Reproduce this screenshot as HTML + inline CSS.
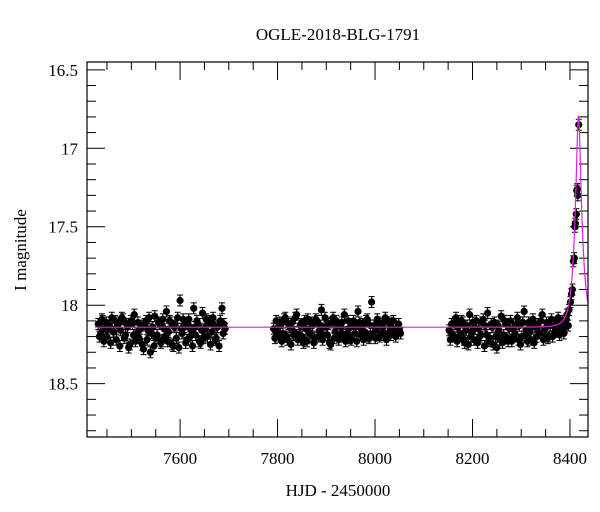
<!DOCTYPE html>
<html><head><meta charset="utf-8"><style>
html,body{margin:0;padding:0;background:#fff;}
svg{display:block;font-family:"Liberation Serif",serif;}
</style></head><body>
<svg id="chart" width="600" height="512">
<text x="338" y="40" text-anchor="middle" font-size="17">OGLE-2018-BLG-1791</text>
<text x="338" y="496" text-anchor="middle" font-size="17">HJD - 2450000</text>
<text x="0" y="0" transform="translate(26,250) rotate(-90)" text-anchor="middle" font-size="17">I magnitude</text>
<g id="ticks"></g>
<g id="data"></g>
<path id="model" fill="none" stroke="#e020e0" stroke-width="1.2"/>
<rect x="87" y="62" width="501" height="375" fill="none" stroke="#000" stroke-width="1.2"/>
</svg>
<script>
const xTickLabels=[7600,7800,8000,8200,8400];
const yTickLabels=[16.5,17,17.5,18,18.5];
const t1=[7432,7437,7441,7446,7450,7455,7460,7464,7469,7474,7478,7483,7488,7492,7497,7502,7506,7511,7516,7520,7525,7530,7534,7539,7544,7548,7553,7558,7562,7567,7572,7576,7581,7586,7590,7595,7600,7604,7609,7614,7618,7623,7628,7632,7637,7642,7646,7651,7656,7660,7665,7670,7674,7680,7686,7690];
const m1=[18.12,18.18,18.10,18.15,18.20,18.13,18.08,18.17,18.22,18.11,18.16,18.09,18.19,18.14,18.25,18.12,18.06,18.18,18.21,18.13,18.28,18.10,18.16,18.30,18.14,18.07,18.19,18.12,18.23,18.15,18.04,18.17,18.11,18.26,18.13,18.08,17.97,18.18,18.14,18.22,18.09,18.16,18.02,18.19,18.12,18.24,18.05,18.15,18.20,18.10,18.17,18.13,18.21,18.26,18.02,18.12];
const m1b=[18.20,18.09,18.23,18.11,18.14,18.24,18.17,18.10,18.13,18.26,18.08,18.21,18.12,18.27,18.10,18.19,18.23,18.11,18.15,18.25,18.12,18.22,18.08,18.18,18.26,18.21,18.11,18.24,18.09,18.20,18.23,18.10,18.25,18.14,18.21,18.27,18.15,18.09,18.24,18.12,18.20,18.26,18.14,18.10,18.23,18.16,18.21,18.09,18.12,18.25,18.08,18.22,18.14,18.10,18.18,18.15];
const t2=[7792,7797,7802,7806,7811,7816,7820,7825,7830,7834,7839,7844,7848,7853,7858,7862,7867,7872,7876,7881,7886,7890,7895,7900,7904,7909,7914,7918,7923,7928,7932,7937,7942,7946,7951,7956,7960,7965,7970,7974,7979,7984,7988,7993,7998,8002,8007,8012,8016,8021,8026,8030,8035,8040,8046,8050];
const m2=[18.15,18.10,18.20,18.13,18.18,18.08,18.22,18.14,18.11,18.17,18.06,18.19,18.12,18.24,18.15,18.09,18.18,18.13,18.21,18.10,18.16,18.03,18.19,18.14,18.12,18.25,18.08,18.17,18.13,18.20,18.11,18.06,18.18,18.15,18.22,18.10,18.14,18.04,18.19,18.12,18.17,18.09,18.21,17.98,18.13,18.16,18.11,18.19,18.14,18.08,18.18,18.12,18.15,18.17,18.14,18.16];
const m2b=[18.21,18.17,18.11,18.23,18.09,18.20,18.12,18.25,18.19,18.08,18.22,18.13,18.20,18.10,18.23,18.17,18.11,18.24,18.09,18.20,18.13,18.22,18.08,18.19,18.24,18.11,18.21,18.10,18.22,18.14,18.19,18.23,18.10,18.21,18.12,18.18,18.23,18.11,18.16,18.22,18.10,18.20,18.13,18.18,18.21,18.09,18.20,18.12,18.18,18.22,18.11,18.19,18.10,18.20,18.12,18.18];
const t3=[8152,8157,8161,8166,8170,8175,8180,8184,8189,8194,8198,8203,8208,8212,8217,8222,8226,8231,8236,8240,8245,8250,8254,8259,8264,8268,8273,8278,8282,8287,8292,8296,8301,8306,8310,8315,8320,8324,8329,8334,8338,8343,8348,8352,8357,8362,8366,8371,8376,8380,8385,8390,8394,8398,8401,8403,8405,8407,8409,8410,8411,8413,8414,8415,8416,8418];
const m3=[18.16,18.12,18.20,18.08,18.14,18.18,18.11,18.24,18.13,18.06,18.17,18.22,18.10,18.15,18.19,18.09,18.13,18.05,18.21,18.14,18.11,18.27,18.16,18.07,18.19,18.12,18.23,18.10,18.15,18.18,18.08,18.13,18.20,18.04,18.16,18.11,18.22,18.09,18.14,18.12,18.18,18.06,18.15,18.11,18.20,18.09,18.13,18.16,18.08,18.12,18.10,18.14,18.06,18.03,17.98,17.93,17.90,17.72,17.70,17.50,17.48,17.42,17.27,17.26,17.30,16.85];
const m3b=[18.22,18.19,18.11,18.23,18.20,18.10,18.22,18.16,18.25,18.20,18.11,18.15,18.24,18.20,18.11,18.26,18.19,18.23,18.12,18.25,18.20,18.13,18.22,18.24,18.10,18.21,18.15,18.23,18.20,18.12,18.22,18.25,18.11,18.19,18.23,18.17,18.12,18.24,18.20,18.18,18.10,18.22,18.19,18.21,18.13,18.20,18.17,18.11,18.19,18.15,18.18,18.09,18.13];
const modelParams=[8417.5,0.3,14,18.14];
const NS="http://www.w3.org/2000/svg";
const X0=87,X1=588,Y0=62,Y1=437,xmin=7409,xmax=8437,ymin=16.45,ymax=18.84;
const sx=t=>X0+(t-xmin)/(xmax-xmin)*(X1-X0);
const sy=m=>Y0+(m-ymin)/(ymax-ymin)*(Y1-Y0);
function mk(tag,attrs,parent){const e=document.createElementNS(NS,tag);for(const k in attrs)e.setAttribute(k,attrs[k]);parent.appendChild(e);return e;}
const tg=document.getElementById('ticks');
for(let t=7450;t<=8437;t+=50){
 const x=sx(t),big=t%200===0,len=big?18:8;
 const a=mk('line',{x1:x,x2:x,y1:Y1,y2:Y1-len,stroke:'#000','stroke-width':1},tg);
 
 
 const b=mk('line',{x1:x,x2:x,y1:Y0,y2:Y0+len,stroke:'#000','stroke-width':1},tg);
 
 
}
xTickLabels.forEach(v=>{const e=mk('text',{x:sx(v),y:464,'text-anchor':'middle','font-size':17},tg);e.textContent=v;
 
 });
for(let i=0;i<=23;i++){
 const m=16.5+i*0.1,y=sy(m),big=i%5===0,len=big?18:9;
 const a=mk('line',{x1:X0,x2:X0+len,y1:y,y2:y,stroke:'#000','stroke-width':1},tg);
 
 
 const b=mk('line',{x1:X1,x2:X1-len,y1:y,y2:y,stroke:'#000','stroke-width':1},tg);
 
 
}
yTickLabels.forEach(v=>{const e=mk('text',{x:78,y:sy(v)+6,'text-anchor':'end','font-size':17},tg);e.textContent=v;
 
 });
const dg=document.getElementById('data');
function plotPoint(tv,mv){
  const x=sx(tv),y=sy(mv),e=0.035;
  const g=mk('g',{},dg);
  
  
  mk('line',{x1:x,x2:x,y1:sy(mv-e),y2:sy(mv+e),stroke:'#000','stroke-width':1.2},g);
  mk('line',{x1:x-3,x2:x+3,y1:sy(mv-e),y2:sy(mv-e),stroke:'#000','stroke-width':1},g);
  mk('line',{x1:x-3,x2:x+3,y1:sy(mv+e),y2:sy(mv+e),stroke:'#000','stroke-width':1},g);
  mk('circle',{cx:x,cy:y,r:3.6,fill:'#000'},g);
}
[[t1,m1b],[t2,m2b],[t3,m3b]].forEach(([ts,ms])=>{
 const n=Math.min(ts.length,ms.length);
 for(let i=0;i<n;i++){plotPoint(ts[i]+2.5,ms[i]);plotPoint(ts[i]+1,(ms[i]+0.14)/2+0.07);}
});
[[t1,m1],[t2,m2],[t3,m3]].forEach(([ts,ms])=>{
 const n=Math.min(ts.length,ms.length);
 for(let i=0;i<n;i++)plotPoint(ts[i],ms[i]);
});
const [t0,u0,tE,base]=modelParams;
let d='';
for(let t=7425;t<=8437;t+=0.25){
 const tau=(t-t0)/tE,u=Math.sqrt(u0*u0+tau*tau);
 const A=(u*u+2)/(u*Math.sqrt(u*u+4));
 const m=base-2.5*Math.log10(A);
 d+=(d?'L':'M')+sx(t).toFixed(2)+' '+sy(m).toFixed(2);
}
document.getElementById('model').setAttribute('d',d);
</script>
</body></html>
